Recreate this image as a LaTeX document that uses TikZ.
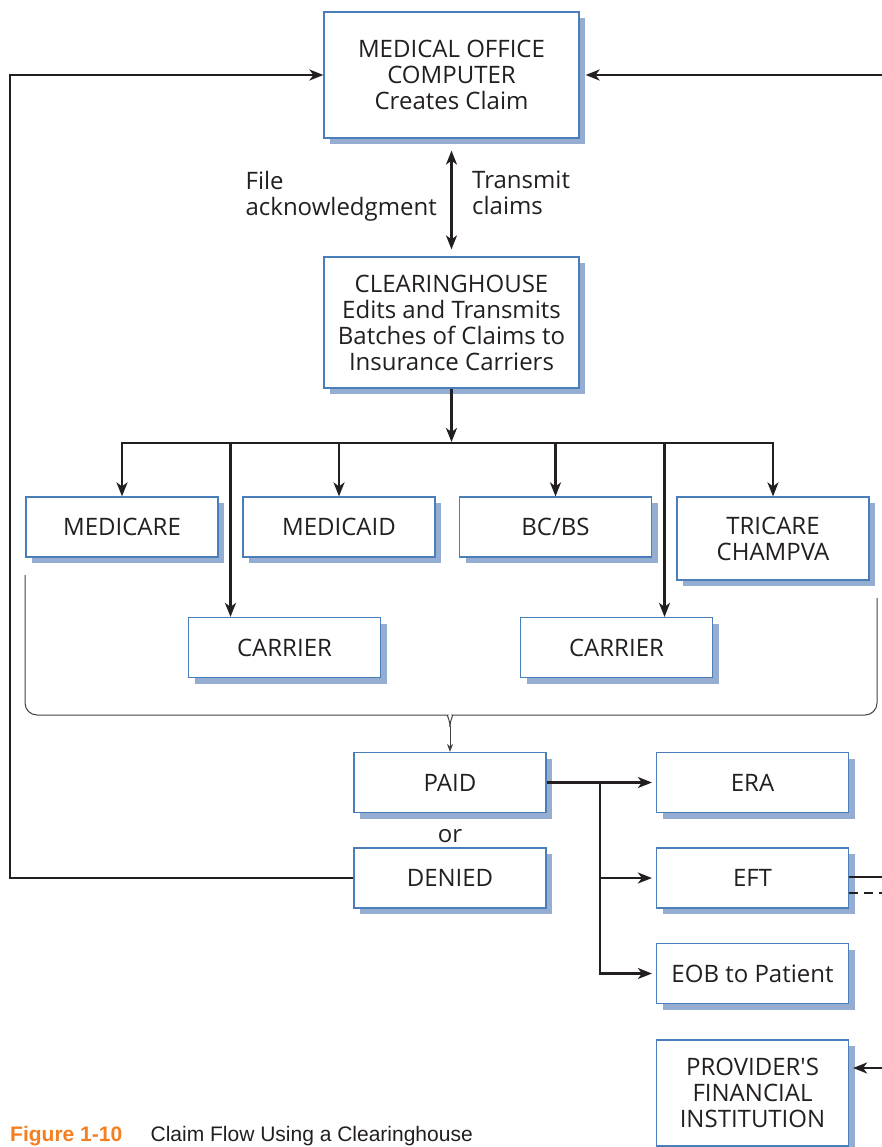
\documentclass[tikz,border=0pt]{standalone}
\usepackage{fontspec}
\setmainfont{Open Sans}
\newfontfamily\captionfont{Liberation Sans}
\usetikzlibrary{positioning, arrows.meta, shadows}
\definecolor{boxblue}{HTML}{4A7EBB}
\definecolor{shadowblue}{HTML}{94ADD1}
\definecolor{ink}{HTML}{231F20}
\definecolor{figorange}{HTML}{F37F20}

\begin{document}
\begin{tikzpicture}[
    x=1pt, y=-1pt,
    font=\fontsize{24}{26}\selectfont,
    text=ink,
    >={Stealth[length=14pt, width=11pt, inset=4pt]},
    boxstyle/.style={
        draw=boxblue, line width=1.2pt, fill=white,
        align=center, inner sep=0pt,
        minimum width=192pt, minimum height=60pt,
        drop shadow={fill=shadowblue, opacity=1, shadow xshift=6pt, shadow yshift=-6pt},
    },
    linestyle/.style={draw=ink, line width=2.2pt},
    arrowstyle/.style={linestyle, ->},
    bracestyle/.style={draw=ink!85, line width=1pt, rounded corners=12pt},
]
\clip (0,0) rectangle (882,1147);

% Office and clearinghouse
\node[boxstyle, minimum width=255pt, minimum height=126pt] (office) at (451.5,75) {MEDICAL OFFICE\\COMPUTER\\Creates Claim};
\node[boxstyle, minimum width=255pt, minimum height=131pt] (clear) at (451.5,322.5) {CLEARINGHOUSE\\Edits and Transmits\\Batches of Claims to\\Insurance Carriers};
\node[anchor=east, align=left, inner sep=0pt] (fileack) at (437,196) {File\\acknowledgment};
\node[anchor=west, align=left, inner sep=0pt] (transmit) at (472,193) {Transmit\\claims};

% Insurance carriers
\node[boxstyle] (medicare) at (122,527) {MEDICARE};
\node[boxstyle] (medicaid) at (339,527) {MEDICAID};
\node[boxstyle] (bcbs) at (555.5,527) {BC/BS};
\node[boxstyle, minimum height=83pt] (tricare) at (773,538.5) {TRICARE\\CHAMPVA};
\node[boxstyle] (carrierA) at (284.5,647.5) {CARRIER};
\node[boxstyle] (carrierB) at (616.5,647.5) {CARRIER};

% Results
\node[boxstyle] (paid) at (450,782.5) {PAID};
\node[below=16pt of paid.south, inner sep=0pt] (or) {or};
\node[boxstyle] (denied) at (450,878) {DENIED};
\node[boxstyle] (era) at (752.5,782.5) {ERA};
\node[boxstyle] (eft) at (752.5,878) {EFT};
\node[boxstyle] (eob) at (752.5,973.5) {EOB to Patient};
\node[boxstyle, minimum height=106pt] (bank) at (752.5,1093) {PROVIDER\textquotesingle S\\FINANCIAL\\INSTITUTION};

% Caption
\node[anchor=base west, inner sep=0pt, text=figorange, font=\captionfont\bfseries\fontsize{21}{24}\selectfont] (figno) at (10,1141) {Figure 1-10};
\node[anchor=base west, inner sep=0pt, font=\captionfont\fontsize{21}{24}\selectfont] (figtitle) at ([xshift=28pt]figno.base east) {Claim Flow Using a Clearinghouse};

% Coordinates
\coordinate (bus) at (451,443);
\coordinate (forkA) at (230.5,443);
\coordinate (forkB) at (664.5,443);
\coordinate (cusp) at (450,727);
\coordinate (split) at (600,783);
\coordinate (leftrail) at (10,878);
\coordinate (rightin) at (890,75);
\coordinate (eftout) at (890,877);
\coordinate (bankin) at (890,1068);

% Arrows
\draw[arrowstyle, <->, shorten <=12pt, shorten >=7pt] (office.south) -- (clear.north);
\draw[arrowstyle, shorten >=1pt] (clear.south) -- (clear.south |- bus);
\draw[arrowstyle] (bus) -| (medicare.north);
\draw[arrowstyle] (bus) -| (tricare.north);
\foreach \n in {medicaid, bcbs}
    \draw[arrowstyle] (\n.north |- bus) -- (\n.north);
\draw[arrowstyle] (forkA) -- (forkA |- carrierA.north);
\draw[arrowstyle] (forkB) -- (forkB |- carrierB.north);

% Brace
\draw[bracestyle] (25,575) |- (436,715) .. controls (446,715) and (450,719) .. (cusp);
\draw[bracestyle] (877,598) |- (464,715) .. controls (454,715) and (450,719) .. (cusp);
\draw[bracestyle, -{Stealth[length=8pt, width=6pt]}] (cusp) -- (paid.north);

\draw[arrowstyle, shorten >=4pt] (paid.east) -- (era.west);
\draw[arrowstyle, shorten >=4pt] (split) |- (eob.west);
\draw[arrowstyle, shorten >=4pt] (split |- eft.west) -- (eft.west);
\draw[arrowstyle] (denied.west) -- (leftrail) |- (office.west);
\draw[arrowstyle] (rightin) -- ([xshift=6pt]office.east);
\draw[linestyle] (eftout -| eft.east) -- (eftout);
\draw[linestyle, dash pattern=on 9pt off 6pt] ([yshift=-15pt]eft.east) -- (eftout |- 0,893);
\draw[arrowstyle] (bankin) -- ([xshift=4pt]bank.east |- bankin);

\end{tikzpicture}
\end{document}
